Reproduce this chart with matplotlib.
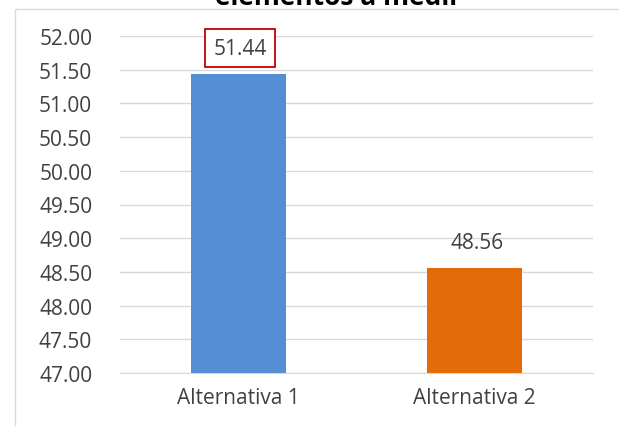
import matplotlib.pyplot as plt
from matplotlib.patches import Rectangle

categorias = ["Alternativa 1", "Alternativa 2"]
valores = [51.44, 48.56]
colores = ["#558ED5", "#E36C09"]
ticks_y = [47.0, 47.5, 48.0, 48.5, 49.0, 49.5, 50.0, 50.5, 51.0, 51.5, 52.0]

plt.rcParams['font.family'] = ['Open Sans', 'DejaVu Sans']

fig = plt.figure(figsize=(6.19, 4.27), dpi=100)
W, H = 619, 427
# borde del area del grafico
fig.patches.append(Rectangle((14.5 / W, -0.1), 1.0, (H - 9.5) / H + 0.1, transform=fig.transFigure,
                             fill=False, edgecolor="#D9D9D9", linewidth=1.0))
# titulo (cortado arriba como en el original)
fig.text(338 / W, 1 - 5 / H, "elementos a medir", ha="center", va="baseline",
         fontsize=19, fontweight="bold", color="black")

ax = fig.add_axes([120 / W, 1 - 374 / H, (593 - 120) / W, (374 - 37) / H])
x = range(len(categorias))
ax.bar(x, valores, width=0.4, color=colores, zorder=3)
ax.set_xlim(-0.5, 1.5)
ax.set_ylim(47, 52)
ax.set_yticks(ticks_y)
ax.set_yticklabels([f"{v:.2f}" for v in ticks_y])
ax.set_xticks(list(x))
ax.set_xticklabels(categorias)
ax.grid(axis="y", color="#D9D9D9", linewidth=1, zorder=0)
for s in ["top", "right", "left"]:
    ax.spines[s].set_visible(False)
ax.spines["bottom"].set_color("#D9D9D9")
ax.tick_params(axis="both", length=0, labelsize=15, colors="#404040")
ax.tick_params(axis="y", pad=20)
ax.tick_params(axis="x", pad=10)

for i, v in enumerate(valores):
    t = ax.annotate(f"{v:.2f}", (i, v), xytext=(1.5, 18.5), textcoords="offset points",
                    ha="center", va="center", fontsize=15, color="#404040")
    if i == 0:
        t.set_bbox(dict(boxstyle="square,pad=0.4", facecolor="white", edgecolor="#C00000", linewidth=1.3))

fig.savefig("out.png", dpi=100)
